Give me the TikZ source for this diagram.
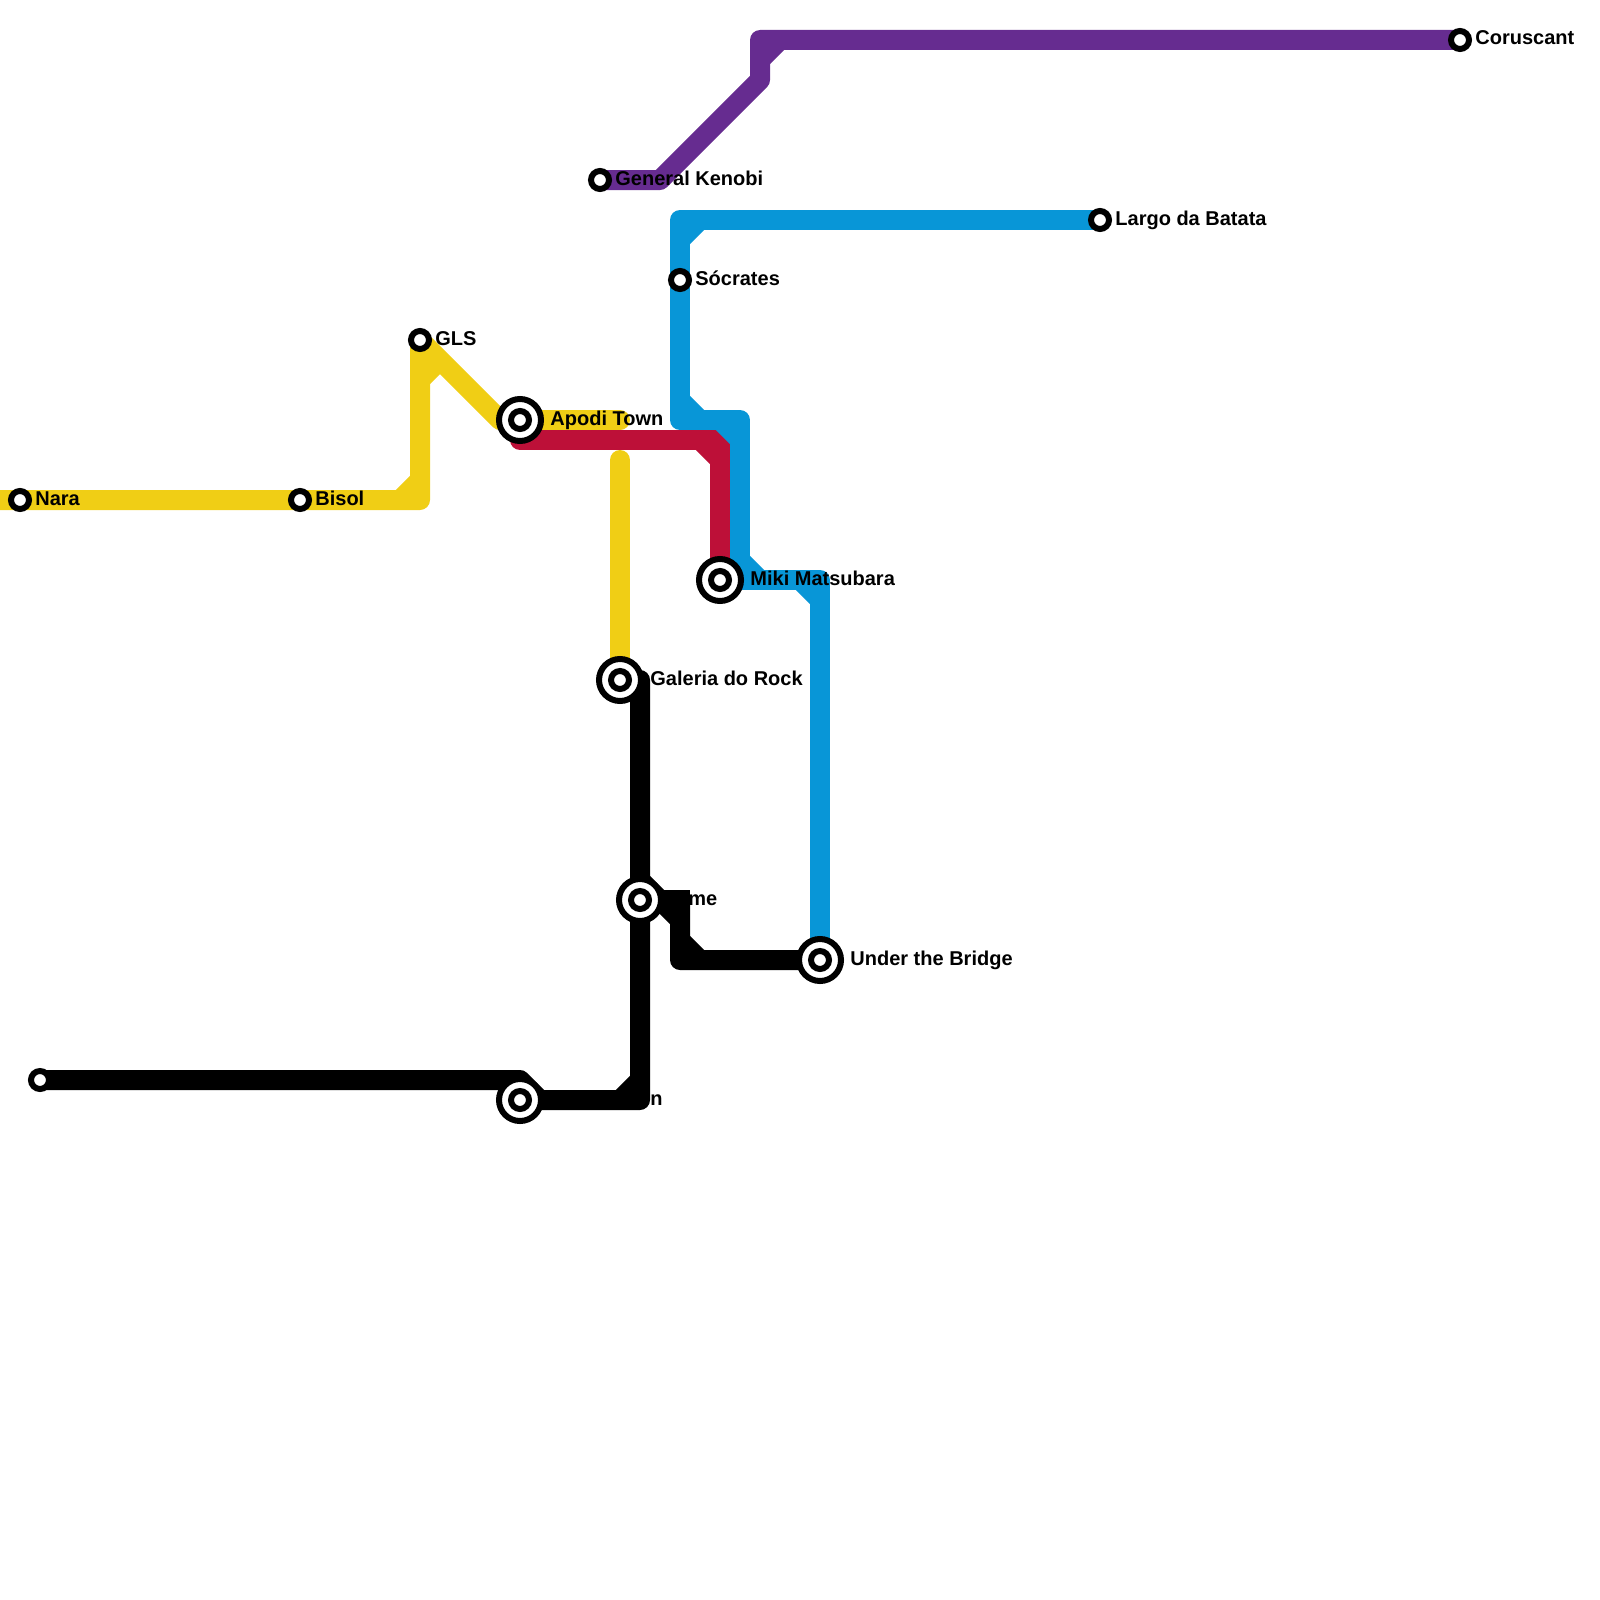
\documentclass[tikz,border=0pt]{standalone}
\usepackage{fontspec}
\setmainfont{Liberation Sans}
\usepackage{xcolor}
\definecolor{lineyellow}{HTML}{F0CE15}
\definecolor{linered}{HTML}{BD1038}
\definecolor{lineblue}{HTML}{0896D7}
\definecolor{linepurple}{HTML}{662C90}
\tikzset{
  metroline/.style={line width=10pt,line cap=round,line join=round},
  metrocut/.style={line width=10pt,line cap=butt},
  stationdot/.style={circle,draw=black,fill=white,line width=3pt,minimum size=9pt,inner sep=0pt},
  stationring/.style={circle,draw=black,fill=white,line width=3pt,minimum size=21pt,inner sep=0pt},
  stationtext/.style={anchor=base west,inner sep=0pt,font=\bfseries\fontsize{10pt}{12pt}\selectfont}
}
\begin{document}
\begin{tikzpicture}[x=0.5pt,y=0.5pt,yscale=-1,xscale=1]
\useasboundingbox (0,0) rectangle (1600,1600);

%Stations
\coordinate (nara) at (20,500);
\coordinate (bisol) at (300,500);
\coordinate (gls) at (420,340);
\coordinate (apodi) at (520,420);
\coordinate (kenobi) at (600,180);
\coordinate (socrates) at (680,280);
\coordinate (largo) at (1100,220);
\coordinate (coruscant) at (1460,40);
\coordinate (miki) at (720,580);
\coordinate (galeria) at (620,680);
\coordinate (bridge) at (820,960);
\coordinate (timestop) at (640,900);
\coordinate (blackstart) at (40,1080);
\coordinate (blackstop) at (520,1100);

%Bends
\coordinate (yellowstart) at (0,500);
\coordinate (yellowa) at (420,500);
\coordinate (yellowb) at (500,420);
\coordinate (yellowend) at (620,420);
\coordinate (yellowtop) at (620,460);
\coordinate (reda) at (520,440);
\coordinate (redb) at (720,440);
\coordinate (bluea) at (680,220);
\coordinate (blueb) at (680,420);
\coordinate (bluec) at (740,420);
\coordinate (blued) at (740,580);
\coordinate (bluee) at (820,580);
\coordinate (purplea) at (660,180);
\coordinate (purpleb) at (760,80);
\coordinate (purplec) at (760,40);
\coordinate (blacka) at (520,1080);
\coordinate (blackb) at (540,1100);
\coordinate (blackc) at (640,1100);
\coordinate (blackd) at (640,680);
\coordinate (blacke) at (640,880);
\coordinate (blackf) at (660,900);
\coordinate (blackg) at (680,900);
\coordinate (blackh) at (680,960);

%Straight Lines
\draw [metroline,lineyellow] (yellowstart) -- (yellowa) -- (gls) -- (yellowb) -- (yellowend) ;
\draw [metroline,lineyellow] (yellowtop) -- (galeria) ;
\draw [metrocut,lineyellow] ([shift={(-20,0)}]yellowa) -- ([shift={(0,-20)}]yellowa) ;
\draw [metrocut,lineyellow] ([shift={(0,40)}]gls) -- ([shift={(20,20)}]gls) ;

\draw [metroline,linered] (reda) -- (redb) -- (miki) ;
\draw [metrocut,linered] ([shift={(-20,0)}]redb) -- ([shift={(0,20)}]redb) ;

\draw [metroline,lineblue] (largo) -- (bluea) -- (blueb) -- (bluec) -- (blued) -- (bluee) -- (bridge) ;
\draw [metrocut,lineblue] ([shift={(0,20)}]bluea) -- ([shift={(20,0)}]bluea) ;
\draw [metrocut,lineblue] ([shift={(0,-20)}]blueb) -- ([shift={(20,0)}]blueb) ;
\draw [metrocut,lineblue] ([shift={(-20,0)}]bluec) -- ([shift={(0,20)}]bluec) ;
\draw [metrocut,lineblue] ([shift={(0,-20)}]blued) -- ([shift={(20,0)}]blued) ;
\draw [metrocut,lineblue] ([shift={(-20,0)}]bluee) -- ([shift={(0,20)}]bluee) ;

\draw [metroline,linepurple] (kenobi) -- (purplea) -- (purpleb) -- (purplec) -- (coruscant) ;
\draw [metrocut,linepurple] ([shift={(0,20)}]purplec) -- ([shift={(20,0)}]purplec) ;

\draw [metroline,black] (blackstart) -- (blacka) -- (blackb) -- (blackc) -- (blackd) ;
\draw [metroline,black] (blacke) -- (blackf) -- (blackg) -- (blackh) -- (bridge) ;
\draw [metrocut,black] (blackf) -- ([shift={(20,20)}]blackf) ;
\draw [metrocut,black] (blackf) -- ([shift={(30,0)}]blackf) ;
\draw [metrocut,black] ([shift={(0,-20)}]blackh) -- ([shift={(20,0)}]blackh) ;
\draw [metrocut,black] ([shift={(-20,0)}]blackc) -- ([shift={(0,-20)}]blackc) ;

%Station markers
\draw (nara) node (naradot) [stationdot] {};
\draw (bisol) node (bisoldot) [stationdot] {};
\draw (gls) node (glsdot) [stationdot] {};
\draw (kenobi) node (kenobidot) [stationdot] {};
\draw (socrates) node (socratesdot) [stationdot] {};
\draw (largo) node (largodot) [stationdot] {};
\draw (coruscant) node (coruscantdot) [stationdot] {};
\draw (blackstart) node (blackstartdot) [stationdot] {};
\draw (apodi) node (apodiring) [stationring] {};
\draw (apodi) node (apodidot) [stationdot] {};
\draw (miki) node (mikiring) [stationring] {};
\draw (miki) node (mikidot) [stationdot] {};
\draw (galeria) node (galeriaring) [stationring] {};
\draw (galeria) node (galeriadot) [stationdot] {};
\draw (bridge) node (bridgering) [stationring] {};
\draw (bridge) node (bridgedot) [stationdot] {};
\draw (timestop) node (timering) [stationring] {};
\draw (timestop) node (timedot) [stationdot] {};
\draw (blackstop) node (blackstopring) [stationring] {};
\draw (blackstop) node (blackstopdot) [stationdot] {};

% Text Node
\draw (35,505) node (naratext) [stationtext] {Nara};
% Text Node
\draw (315,505) node (bisoltext) [stationtext] {Bisol};
% Text Node
\draw (435,345) node (glstext) [stationtext] {GLS};
% Text Node
\draw (550,425) node (apoditext) [stationtext] {Apodi Town};
% Text Node
\draw (615,185) node (kenobitext) [stationtext] {General Kenobi};
% Text Node
\draw (695,285) node (socratestext) [stationtext] {Sócrates};
% Text Node
\draw (1115,225) node (largotext) [stationtext] {Largo da Batata};
% Text Node
\draw (1475,45) node (coruscanttext) [stationtext] {Coruscant};
% Text Node
\draw (750,585) node (mikitext) [stationtext] {Miki Matsubara};
% Text Node
\draw (650,685) node (galeriatext) [stationtext] {Galeria do Rock};
% Text Node
\draw (850,965) node (bridgetext) [stationtext] {Under the Bridge};
% Text Node
\draw (688,905) node (timetext) [stationtext] {me};
% Text Node
\draw (650,1105) node (blackstoptext) [stationtext] {n};

\end{tikzpicture}
\end{document}
